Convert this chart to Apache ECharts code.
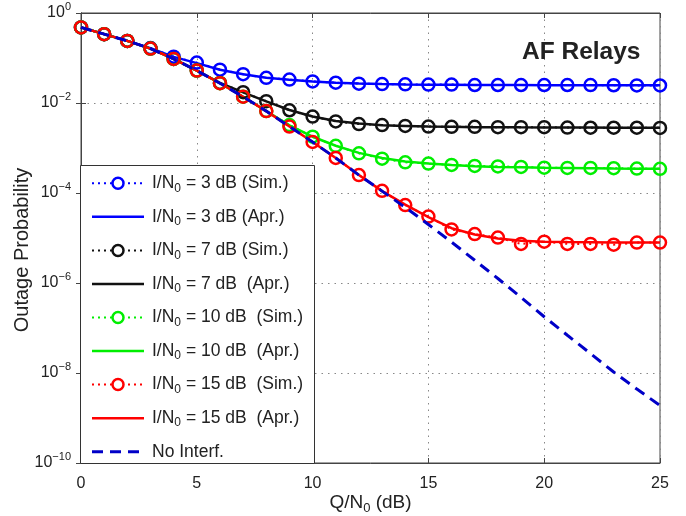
<!DOCTYPE html>
<html><head><meta charset="utf-8">
<script src="https://cdn.jsdelivr.net/npm/echarts@6/dist/echarts.min.js"></script>
<style>html,body{margin:0;padding:0;background:#fff}#c{width:686px;height:516px}</style>
</head><body><div id="c"></div>
<script>
// ---------------- data ----------------
const qdB = [0,1,2,3,4,5,6,7,8,9,10,11,12,13,14,15,16,17,18,19,20,21,22,23,24,25];
const xTickValues = [0,5,10,15,20,25];

const sim3 = [0.479,0.339,0.240,0.166,0.107,0.079,0.055,0.0437,0.0363,0.0331,0.0302,0.0282,0.0269,0.0263,0.0260,0.0257,0.0257,0.0251,0.0251,0.0251,0.0251,0.0251,0.0250,0.0248,0.0246,0.0245];
const apr3 = [0.479,0.339,0.240,0.165,0.106,0.077,0.055,0.0435,0.0362,0.0328,0.0302,0.0283,0.0271,0.0264,0.0259,0.0256,0.0254,0.0252,0.0251,0.0250,0.0249,0.0249,0.0248,0.0248,0.0247,0.0247];

const sim7 = [0.479,0.339,0.240,0.162,0.0955,0.0525,0.0280,0.0174,0.0110,0.0069,0.0050,0.0039,0.0034,0.00324,0.0031,0.0030,0.00295,0.00295,0.0029,0.0029,0.0029,0.00285,0.00282,0.00282,0.00282,0.0028];
const apr7 = [0.479,0.339,0.240,0.162,0.0955,0.0525,0.0280,0.0172,0.0109,0.0070,0.0050,0.0040,0.0035,0.0032,0.0031,0.0030,0.00295,0.0029,0.0029,0.00288,0.00287,0.00285,0.00284,0.00283,0.00282,0.00282];

const sim10 = [0.479,0.339,0.240,0.162,0.0955,0.0525,0.0275,0.0138,0.0066,0.00324,0.00178,0.00112,0.00076,0.00058,0.00048,0.00045,0.00042,0.00040,0.00039,0.00038,0.000365,0.00036,0.00036,0.000355,0.00035,0.000345];
const apr10 = [0.479,0.339,0.240,0.162,0.0955,0.0525,0.0275,0.0138,0.0066,0.0032,0.00178,0.00112,0.00078,0.00060,0.00050,0.00045,0.00042,0.000395,0.00038,0.000372,0.000365,0.00036,0.000355,0.00035,0.000348,0.000345];

const sim15 = [0.479,0.339,0.240,0.162,0.0955,0.0525,0.0275,0.0138,0.0066,0.0030,0.00136,0.00060,0.00025,0.000112,0.000054,0.000030,0.0000155,0.0000122,0.0000102,0.0000074,0.0000083,0.0000074,0.0000074,0.0000071,0.0000079,0.0000079];
const apr15 = [0.479,0.339,0.240,0.162,0.0955,0.0525,0.0275,0.0138,0.0066,0.0030,0.00136,0.00060,0.00025,0.000110,0.000055,0.000029,0.0000165,0.0000120,0.0000098,0.0000087,0.0000083,0.0000081,0.0000080,0.0000079,0.0000079,0.0000079];

const noInterf = [0.479,0.339,0.240,0.162,0.0955,0.0525,0.0275,0.0138,0.0066,0.0030,0.00136,0.00060,0.00025,0.000110,0.000048,0.000020,8.1e-6,3.2e-6,1.26e-6,4.8e-7,1.78e-7,6.9e-8,2.7e-8,1.05e-8,4.4e-9,1.9e-9];

const seriesNames = [
  'I/N0 = 3 dB (Sim.)','I/N0 = 3 dB (Apr.)',
  'I/N0 = 7 dB (Sim.)','I/N0 = 7 dB  (Apr.)',
  'I/N0 = 10 dB  (Sim.)','I/N0 = 10 dB  (Apr.)',
  'I/N0 = 15 dB  (Sim.)','I/N0 = 15 dB  (Apr.)',
  'No Interf.'
];
const titleText = 'AF Relays';
const xName = 'Q/N0 (dB)';
const yName = 'Outage Probability';

// ---------------- styles ----------------
const FONT = '"Liberation Sans", Arial, Helvetica, sans-serif';
const C_BLUE = '#0000ff', C_BLACK = '#111111', C_GREEN = '#00ee00', C_RED = '#ff0000', C_DASH = '#0000c8';

function pairs(arr){ return qdB.map((x,i)=>[x, arr[i]]); }
function simSeries(name, arr, color){
  return {name, type:'line', data:pairs(arr), symbol:'circle', symbolSize:12,
    itemStyle:{color:'rgba(0,0,0,0)', borderColor:color, borderWidth:2.5},
    lineStyle:{color, width:2, type:[2,4]}, emphasis:{disabled:true}, z:2};
}
function aprSeries(name, arr, color){
  return {name, type:'line', data:pairs(arr), symbol:'none',
    lineStyle:{color, width:2.5, type:'solid'}, emphasis:{disabled:true}, z:2};
}

const series = [
  simSeries(seriesNames[0], sim3, C_BLUE), aprSeries(seriesNames[1], apr3, C_BLUE),
  simSeries(seriesNames[2], sim7, C_BLACK), aprSeries(seriesNames[3], apr7, C_BLACK),
  simSeries(seriesNames[4], sim10, C_GREEN), aprSeries(seriesNames[5], apr10, C_GREEN),
  simSeries(seriesNames[6], sim15, C_RED), aprSeries(seriesNames[7], apr15, C_RED),
  {name:seriesNames[8], type:'line', data:pairs(noInterf), symbol:'none',
   lineStyle:{color:C_DASH, width:3, type:[11,7]}, emphasis:{disabled:true}, z:3}
];

function subRich(s){ return s.replace('N0', 'N{s|0}'); }

// ---------------- manual legend ----------------
const legendKinds = ['sim','apr','sim','apr','sim','apr','sim','apr','dash'];
const legendColors = [C_BLUE,C_BLUE,C_BLACK,C_BLACK,C_GREEN,C_GREEN,C_RED,C_RED,C_DASH];
const LX = 81, LY = 165, LW = 234, LH = 298;
const firstY = 183.3, stepY = 33.55;
const graphics = [];
graphics.push({type:'rect', shape:{x:LX-0.5, y:LY+0.5, width:LW, height:LH}, style:{fill:'#fff', stroke:'#333', lineWidth:1}, z:10, silent:true});
seriesNames.forEach((nm,i)=>{
  const y = firstY + stepY*i;
  const col = legendColors[i], kind = legendKinds[i];
  if (kind === 'sim') {
    graphics.push({type:'line', shape:{x1:92,y1:y,x2:144,y2:y}, style:{stroke:col, lineWidth:2, lineDash:[2,4]}, z:11, silent:true});
    graphics.push({type:'circle', shape:{cx:118, cy:y, r:5.5}, style:{fill:'#fff', stroke:col, lineWidth:2.5}, z:12, silent:true});
  } else if (kind === 'apr') {
    graphics.push({type:'line', shape:{x1:92,y1:y,x2:144,y2:y}, style:{stroke:col, lineWidth:2.5}, z:11, silent:true});
  } else {
    graphics.push({type:'line', shape:{x1:92,y1:y,x2:144,y2:y}, style:{stroke:col, lineWidth:3, lineDash:[11,7]}, z:11, silent:true});
  }
  graphics.push({type:'text', x:152, y:y, z:12, silent:true, style:{
    text: subRich(nm), fill:'#222', fontFamily:FONT, fontSize:17.5, lineHeight:22,
    align:'left', verticalAlign:'middle',
    rich:{ s:{fontSize:12, lineHeight:12, verticalAlign:'bottom', fontFamily:FONT, fill:'#222'} }
  }});
});
graphics.push({type:'text', x:522, y:52, z:12, silent:true, style:{text:titleText, fill:'#222', fontFamily:FONT, fontSize:24.5, fontWeight:'bold', align:'left', verticalAlign:'middle'}});
graphics.push({type:'text', x:22, y:250, rotation:Math.PI/2, z:12, silent:true, style:{text:yName, fill:'#222', fontFamily:FONT, fontSize:20, align:'center', verticalAlign:'middle'}});

const gridLine = {show:true, lineStyle:{color:'#888', width:1, type:[1.5,5]}};

const option = {
  animation:false,
  backgroundColor:'#fff',
  grid:{left:81, right:26, top:13, bottom:53, show:true, borderColor:'#444', borderWidth:1, containLabel:false, outerBoundsMode:'none'},
  xAxis:[{
    type:'value', min:0, max:25, interval:5,
    name: subRich(xName), nameLocation:'middle', nameGap:28, nameMoveOverlap:false,
    nameTextStyle:{fontFamily:FONT, fontSize:19, lineHeight:24, color:'#222', rich:{s:{fontSize:13, lineHeight:13, verticalAlign:'bottom', fontFamily:FONT, color:'#222'}}},
    axisLine:{show:true, lineStyle:{color:'#444'}},
    axisTick:{show:true, inside:true, length:5, lineStyle:{color:'#444'}},
    axisLabel:{fontFamily:FONT, fontSize:16, color:'#222', margin:13},
    splitLine:gridLine
  },{
    type:'value', position:'top', min:0, max:25, interval:5,
    axisLine:{show:true, lineStyle:{color:'#444'}},
    axisTick:{show:true, inside:true, length:5, lineStyle:{color:'#444'}},
    axisLabel:{show:false}, splitLine:{show:false}
  }],
  yAxis:[{
    type:'log', logBase:10, min:1e-10, max:1, interval:2, splitNumber:5,
    axisLine:{show:true, lineStyle:{color:'#444'}},
    axisTick:{show:true, inside:true, length:5, lineStyle:{color:'#444'}},
    axisLabel:{margin:10, color:'#222',
      formatter:function(v){ const e = Math.round(Math.log10(v)); return '{b|10}{p|' + (e===0?'0':'\u2212'+(-e)) + '}'; },
      rich:{ b:{fontFamily:FONT, fontSize:16, lineHeight:24, color:'#222'},
             p:{fontFamily:FONT, fontSize:11, lineHeight:11, verticalAlign:'top', color:'#222'} }
    },
    splitLine:gridLine
  },{
    type:'log', logBase:10, min:1e-10, max:1, interval:2, splitNumber:5, position:'right',
    axisLine:{show:true, lineStyle:{color:'#444'}},
    axisTick:{show:true, inside:true, length:5, lineStyle:{color:'#444'}},
    axisLabel:{show:false}, splitLine:{show:false}
  }],
  series: series,
  graphic: graphics
};
const chart = echarts.init(document.getElementById('c'), null, {renderer:'canvas'});
chart.setOption(option);
</script>
</body></html>
